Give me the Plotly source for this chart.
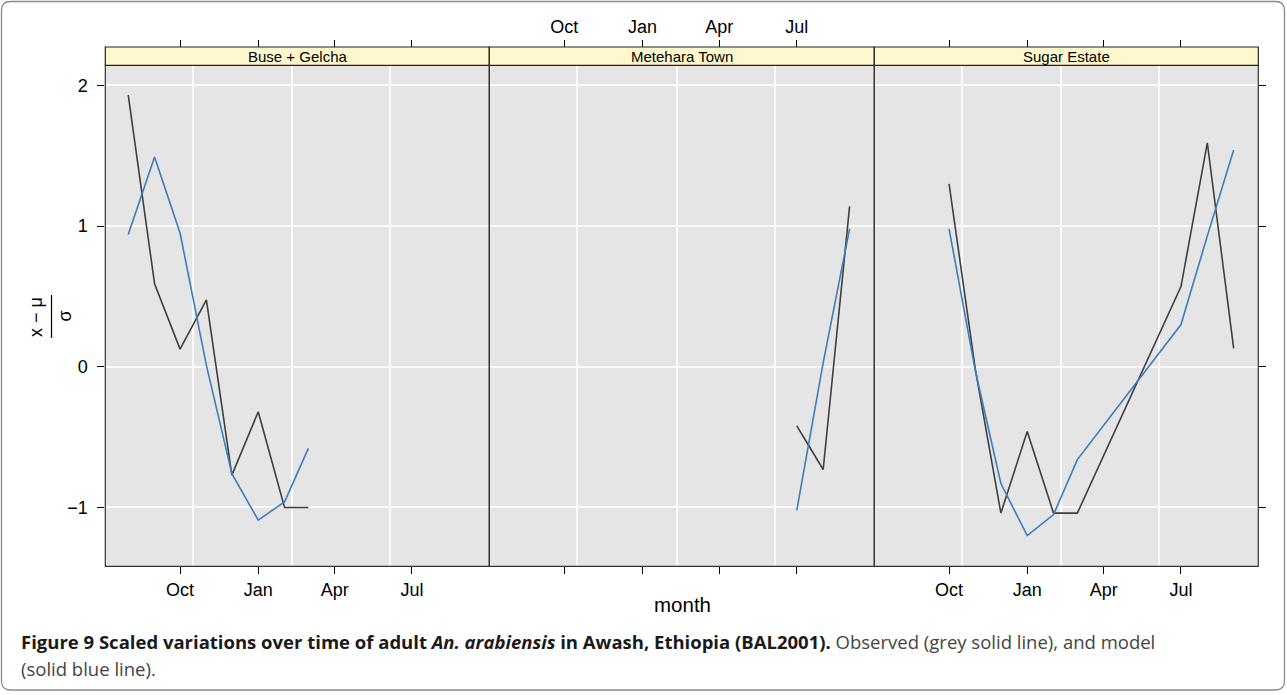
import plotly.graph_objects as go

# ---------------- data ----------------
panels = ["Buse + Gelcha", "Metehara Town", "Sugar Estate"]

months_bg = ["2000-08-01", "2000-09-01", "2000-10-01", "2000-11-01",
             "2000-12-01", "2001-01-01", "2001-02-01", "2001-03-01"]
obs_bg = [1.93, 0.59, 0.125, 0.475, -0.77, -0.32, -1.00, -1.00]
mod_bg = [0.94, 1.49, 0.95, 0.01, -0.76, -1.09, -0.96, -0.58]

months_mt = ["2001-07-01", "2001-08-01", "2001-09-01"]
obs_mt = [-0.42, -0.73, 1.14]
mod_mt = [-1.02, 0.03, 0.98]

months_se = ["2000-10-01", "2000-11-01", "2000-12-01", "2001-01-01", "2001-02-01",
             "2001-03-01", "2001-07-01", "2001-08-01", "2001-09-01"]
obs_se = [1.30, -0.02, -1.04, -0.46, -1.04, -1.04, 0.57, 1.59, 0.13]
mod_se = [0.98, -0.03, -0.83, -1.20, -1.05, -0.66, 0.30, 0.93, 1.54]

tick_dates = ["2000-10-01", "2001-01-01", "2001-04-01", "2001-07-01"]
tick_labels = ["Oct", "Jan", "Apr", "Jul"]
grid_dates = ["2000-10-16 12:00", "2001-02-10", "2001-06-05 12:00"]
y_ticks = [-1, 0, 1, 2]

x_range = ["2000-07-05", "2001-09-30"]
y_range = [-1.418, 2.142]

# ---------------- layout geometry (pixels) ----------------
W, H = 1287, 695
def px(x):
    return x / W
def py(y):
    return 1 - y / H

panel_edges = [105.3, 489.3, 874.3, 1258.3]
plot_top, plot_bot = 65.3, 566.3
strip_top = 47.0

OBS_COL = "#3f3f3f"
MOD_COL = "#3a7ebf"
GRID_COL = "#fafafa"
FONT = "Liberation Sans, Arial, Helvetica, sans-serif"

series = [(months_bg, obs_bg, mod_bg), (months_mt, obs_mt, mod_mt), (months_se, obs_se, mod_se)]

fig = go.Figure()
for i, (mx, ob, md) in enumerate(series):
    xa = "x" if i == 0 else f"x{i+1}"
    ya = "y" if i == 0 else f"y{i+1}"
    fig.add_trace(go.Scatter(x=mx, y=ob, mode="lines", line=dict(color=OBS_COL, width=1.6),
                             xaxis=xa, yaxis=ya, showlegend=False, hoverinfo="skip"))
    fig.add_trace(go.Scatter(x=mx, y=md, mode="lines", line=dict(color=MOD_COL, width=1.6),
                             xaxis=xa, yaxis=ya, showlegend=False, hoverinfo="skip"))
    # invisible trace to attach top overlay axis
    fig.add_trace(go.Scatter(x=[x_range[0]], y=[None], mode="lines", xaxis=f"x{i+4}", yaxis=ya,
                             showlegend=False, hoverinfo="skip"))
# invisible trace for right y ticks
fig.add_trace(go.Scatter(x=[x_range[0]], y=[None], mode="lines", xaxis="x3", yaxis="y4",
                         showlegend=False, hoverinfo="skip"))

tickfont = dict(family=FONT, size=18, color="black")
layout = dict(
    width=W, height=H, autosize=False,
    margin=dict(l=0, r=0, t=0, b=0),
    paper_bgcolor="white", plot_bgcolor="#e5e5e5",
    showlegend=False,
)

for i in range(3):
    dom = [px(panel_edges[i]), px(panel_edges[i + 1])]
    key = "xaxis" if i == 0 else f"xaxis{i+1}"
    ykey = "yaxis" if i == 0 else f"yaxis{i+1}"
    ya = "y" if i == 0 else f"y{i+1}"
    xa = "x" if i == 0 else f"x{i+1}"
    layout[key] = dict(
        domain=dom, type="date", range=x_range, anchor=ya,
        tickmode="array", tickvals=tick_dates, ticktext=tick_labels,
        showticklabels=(i != 1), ticks="outside", ticklen=7, tickwidth=1, tickcolor="black",
        tickfont=tickfont, showgrid=False, zeroline=False, showline=False,
        minor=dict(tickmode="array", tickvals=grid_dates, showgrid=True,
                   gridcolor=GRID_COL, gridwidth=1.6, ticks=""),
    )
    layout[f"xaxis{i+4}"] = dict(
        domain=dom, type="date", range=x_range, overlaying=xa, side="top",
        anchor="free", position=py(strip_top),
        tickmode="array", tickvals=tick_dates, ticktext=tick_labels,
        showticklabels=(i == 1), ticks="outside", ticklen=7, tickwidth=1, tickcolor="black",
        tickfont=tickfont, showgrid=False, zeroline=False, showline=False,
    )
    layout[ykey] = dict(
        domain=[py(plot_bot), py(plot_top)], range=y_range, anchor=xa,
        tickmode="array", tickvals=y_ticks, ticktext=["\u22121", "0", "1", "2"],
        showticklabels=(i == 0), ticks="outside" if i == 0 else "", ticklen=7,
        tickwidth=1, tickcolor="black", tickfont=tickfont, ticklabelstandoff=6,
        showgrid=True, gridcolor=GRID_COL, gridwidth=1.6, zeroline=False, showline=False,
    )
layout["yaxis4"] = dict(
    domain=[py(plot_bot), py(plot_top)], range=y_range, overlaying="y3", side="right",
    anchor="x3", tickmode="array", tickvals=y_ticks, showticklabels=False,
    ticks="outside", ticklen=7, tickwidth=1, tickcolor="black",
    showgrid=False, zeroline=False, showline=False,
)

shapes = []
for i in range(3):
    x0, x1 = px(panel_edges[i]), px(panel_edges[i + 1])
    # panel border
    shapes.append(dict(type="rect", xref="paper", yref="paper", x0=x0, x1=x1,
                       y0=py(plot_bot), y1=py(plot_top), line=dict(color="#333333", width=1.2),
                       fillcolor="rgba(0,0,0,0)", layer="above"))
    # strip
    shapes.append(dict(type="rect", xref="paper", yref="paper", x0=x0, x1=x1,
                       y0=py(plot_top), y1=py(strip_top), line=dict(color="#222222", width=1.2),
                       fillcolor="#fff8cc", layer="above"))

# y title fraction bar
shapes.append(dict(type="line", xref="paper", yref="paper", x0=px(51.5), x1=px(51.5),
                   y0=py(295), y1=py(338), line=dict(color="black", width=1.2)))

# rounded outer frame
def rounded_rect(x0, y0, x1, y1, r):
    pts = [
        f"M {px(x0 + r)},{py(y0)}", f"L {px(x1 - r)},{py(y0)}",
        f"Q {px(x1)},{py(y0)} {px(x1)},{py(y0 + r)}", f"L {px(x1)},{py(y1 - r)}",
        f"Q {px(x1)},{py(y1)} {px(x1 - r)},{py(y1)}", f"L {px(x0 + r)},{py(y1)}",
        f"Q {px(x0)},{py(y1)} {px(x0)},{py(y1 - r)}", f"L {px(x0)},{py(y0 + r)}",
        f"Q {px(x0)},{py(y0)} {px(x0 + r)},{py(y0)} Z",
    ]
    return " ".join(pts)

shapes.append(dict(type="path", xref="paper", yref="paper",
                   path=rounded_rect(1.5, 1.5, 1284.5, 690, 9),
                   line=dict(color="#8a8a8a", width=1.3), fillcolor="rgba(0,0,0,0)"))
layout["shapes"] = shapes

annotations = []
for i, name in enumerate(panels):
    cx = (panel_edges[i] + panel_edges[i + 1]) / 2
    annotations.append(dict(text=name, x=px(cx), y=py((plot_top + strip_top) / 2),
                            xref="paper", yref="paper", showarrow=False,
                            font=dict(family=FONT, size=15, color="black"),
                            xanchor="center", yanchor="middle"))
annotations.append(dict(text="month", x=px(682), y=py(604), xref="paper", yref="paper",
                        showarrow=False, font=dict(family=FONT, size=20.5, color="black"),
                        xanchor="center", yanchor="middle"))
annotations.append(dict(text="x \u2212 \u03bc", x=px(36), y=py(317), xref="paper", yref="paper",
                        showarrow=False, textangle=-90,
                        font=dict(family=FONT, size=18, color="black"),
                        xanchor="center", yanchor="middle"))
annotations.append(dict(text="\u03c3", x=px(65), y=py(316.5), xref="paper", yref="paper",
                        showarrow=False, textangle=-90,
                        font=dict(family=FONT, size=18, color="black"),
                        xanchor="center", yanchor="middle"))

CAP_FONT = "Open Sans, Noto Sans, sans-serif"
cap1 = ("<b>Figure 9 Scaled variations over time of adult <i>An. arabiensis</i> in Awash, "
        "Ethiopia (BAL2001).</b> <span style='color:#444444'>Observed (grey solid line), and model</span>")
cap2 = "<span style='color:#444444'>(solid blue line).</span>"
annotations.append(dict(text=cap1, x=px(19), y=py(641), xref="paper", yref="paper",
                        showarrow=False, xanchor="left", yanchor="middle", align="left",
                        font=dict(family=CAP_FONT, size=18.5, color="#1a1a1a")))
annotations.append(dict(text=cap2, x=px(19), y=py(668), xref="paper", yref="paper",
                        showarrow=False, xanchor="left", yanchor="middle", align="left",
                        font=dict(family=CAP_FONT, size=18.5, color="#1a1a1a")))
layout["annotations"] = annotations

fig.update_layout(**layout)
fig.write_html("out.html", config={"displayModeBar": False},
               post_script="document.body.style.margin='0px';document.body.style.overflow='hidden';")
